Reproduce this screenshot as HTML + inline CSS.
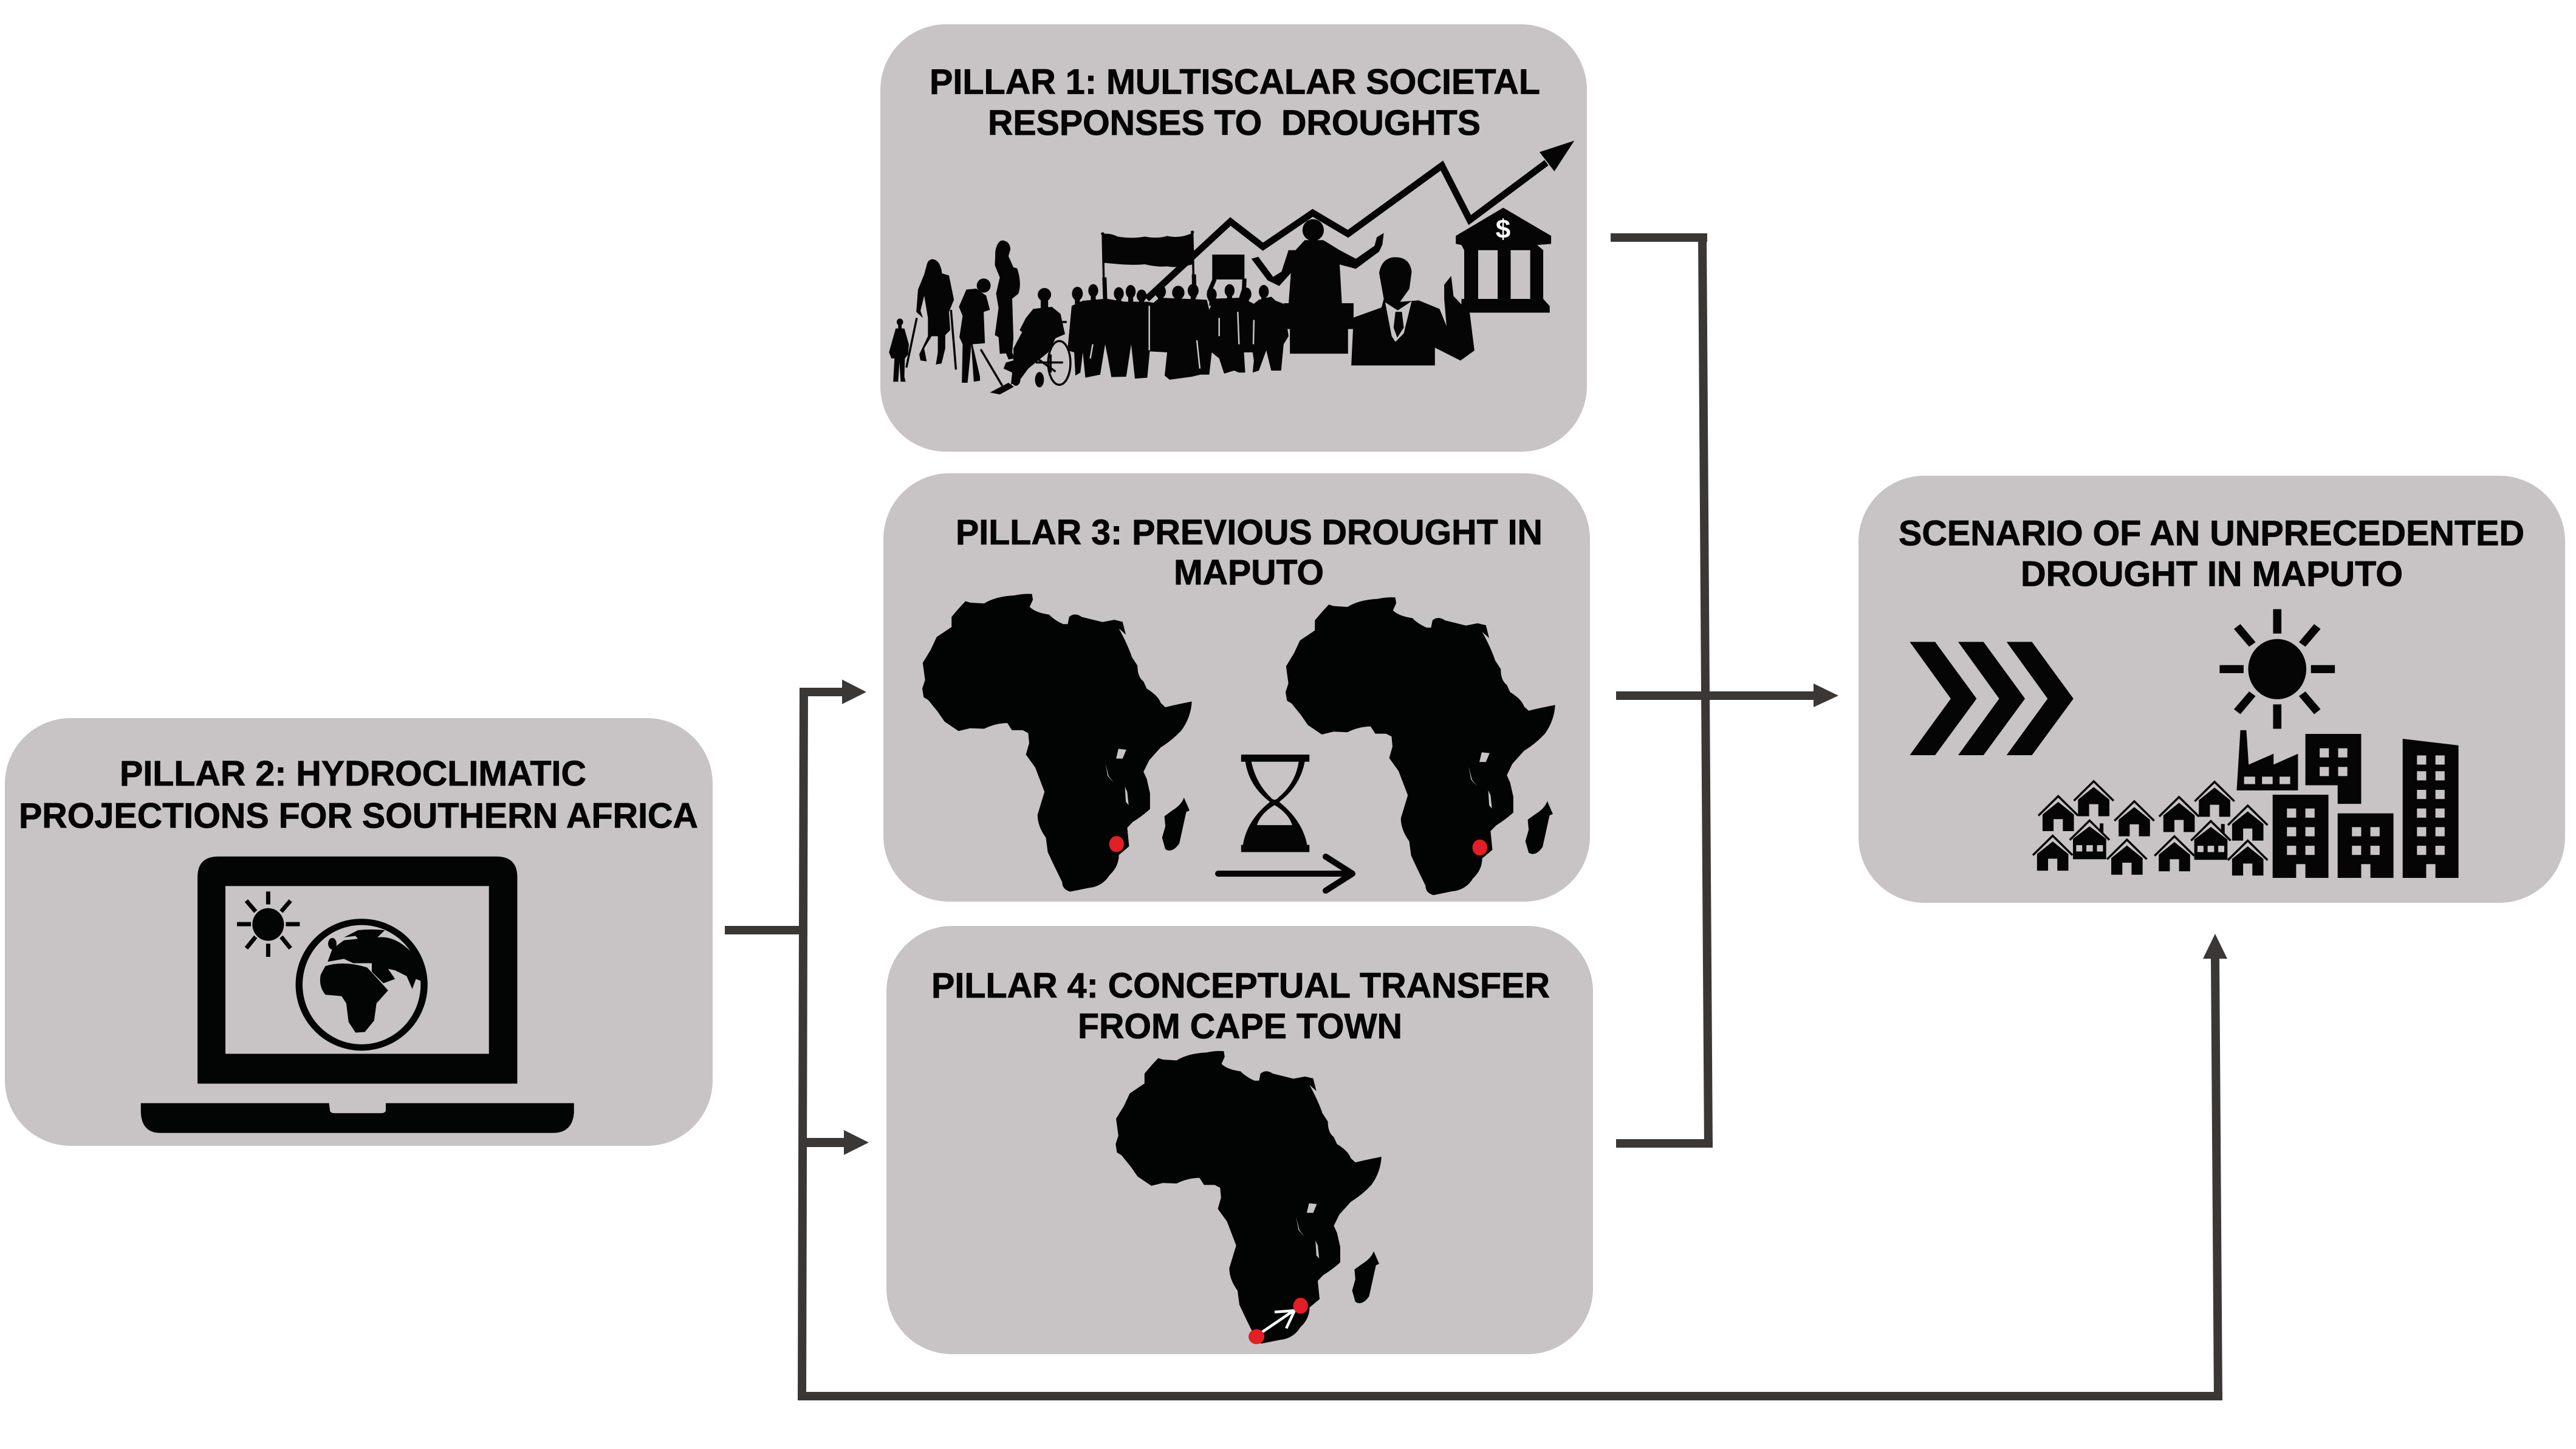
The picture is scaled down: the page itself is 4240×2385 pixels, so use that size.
<!DOCTYPE html>
<html><head><meta charset="utf-8"><style>html,body{margin:0;padding:0;background:#fff}svg{display:block}text{font-family:"Liberation Sans",sans-serif;font-weight:700;font-size:58px;fill:#050505;stroke:#050505;stroke-width:.8px}</style></head><body>
<svg xmlns="http://www.w3.org/2000/svg" width="4240" height="2385" viewBox="0 0 4240 2385">
<defs>
<g id="africa">
<path fill="#020303" d="M300,445 Q320,438 338,440 L340,460 L333,485 Q345,505 375,512 Q385,530 405,545 L415,545 L418,520 Q430,503 445,520 Q470,530 490,538 L515,530 L533,537 L540,582 L525,560 Q545,620 553,660 L565,690 Q565,730 578,745 L585,770 Q610,795 615,820 L625,835 Q650,825 682,815 Q680,870 660,915 Q640,950 615,975 L590,1020 L578,1060 L585,1085 L592,1135 L592,1190 Q575,1215 555,1235 L543,1255 L547,1320 L525,1350 Q525,1390 505,1420 Q490,1460 460,1465 L420,1478 Q403,1470 403,1445 L385,1385 L372,1340 L368,1290 Q350,1250 350,1210 L365,1130 L358,1100 L345,1045 L325,1000 L332,960 L330,925 L318,915 L295,915 L285,890 Q260,890 235,910 L205,908 L180,918 L150,885 L135,850 L115,810 L105,800 L102,770 L108,740 L103,680 L120,635 L133,590 L165,555 L165,520 Q180,490 195,465 L205,470 L235,473 Q260,448 300,445 Z"/>
<path fill="#020303" d="M665,1150 L677,1195 L670,1200 L655,1310 Q640,1345 625,1330 L618,1290 L625,1250 L623,1215 L640,1195 Q660,1175 665,1150Z"/>
<path fill="#c8c4c5" d="M524,980 L541,983 L533,1014 L519,1014 Z M496,1030 L503,1075 L514,1098 L501,1075 Z M538,1112 L543,1130 L546,1176 L540,1165 Z"/>
</g>
<g id="h">
<polyline points="-43,68 0,0 43,68" fill="none" stroke="#050505" stroke-width="3.5" vector-effect="non-scaling-stroke"/>
<path fill="#050505" d="M0,20 L-34,64 L-34,122 L-10,122 L-10,80 L10,80 L10,122 L34,122 L34,64 Z"/>
</g>
<g id="hw">
<polyline points="-43,68 0,0 43,68" fill="none" stroke="#050505" stroke-width="3.5" vector-effect="non-scaling-stroke"/>
<path fill="#050505" d="M0,20 L-36,64 L-36,135 L36,135 L36,64 Z M22,10 L30,10 L30,45 L22,35 Z"/>
<path fill="#c8c4c5" d="M-29,86 L-16,86 L-16,108 L-29,108 Z M-7,86 L7,86 L7,108 L-7,108 Z M16,86 L29,86 L29,108 L16,108 Z"/>
</g>
</defs>

<!-- boxes -->
<g fill="#c8c4c5">
<rect x="1449" y="40" width="1163" height="703.5" rx="108"/>
<rect x="1454" y="779" width="1163" height="705" rx="108"/>
<rect x="8" y="1182" width="1165" height="704" rx="108"/>
<rect x="1459" y="1524" width="1163" height="705" rx="108"/>
<rect x="3059" y="783" width="1163" height="703" rx="108"/>
</g>

<!-- connectors -->
<g fill="#3b3735">
<polygon points="1316,1132 1330,1132 1327,2305 1313,2305"/>
<rect x="1316" y="1132" width="74" height="14"/>
<polygon points="1386,1118.5 1426,1139 1386,1159"/>
<rect x="1193" y="1524" width="124" height="14"/>
<rect x="1326" y="1873" width="66" height="15"/>
<polygon points="1389,1860 1430,1880.5 1389,1901"/>
<rect x="1313" y="2291" width="2345" height="14"/>
<polygon points="3639,1578 3653,1578 3658,2305 3644,2305"/>
<polygon points="3646,1537 3666,1578 3626,1578"/>
<rect x="2651" y="384" width="159" height="14"/>
<polygon points="2795,390 2809,390 2819,1889 2805,1889"/>
<rect x="2660" y="1875" width="159" height="14"/>
<rect x="2660" y="1138" width="330" height="14"/>
<polygon points="2985,1125 3026,1145 2985,1164"/>
</g>

<!-- titles -->
<text x="1530" y="154.5" textLength="1005" lengthAdjust="spacingAndGlyphs">PILLAR 1: MULTISCALAR SOCIETAL</text>
<text x="1626" y="222" textLength="811" lengthAdjust="spacingAndGlyphs" xml:space="preserve">RESPONSES TO  DROUGHTS</text>
<text x="1573" y="896" textLength="966" lengthAdjust="spacingAndGlyphs">PILLAR 3: PREVIOUS DROUGHT IN</text>
<text x="1932" y="962" textLength="247" lengthAdjust="spacingAndGlyphs">MAPUTO</text>
<text x="3125" y="897.5" textLength="1030" lengthAdjust="spacingAndGlyphs">SCENARIO OF AN UNPRECEDENTED</text>
<text x="3326" y="964.5" textLength="629" lengthAdjust="spacingAndGlyphs">DROUGHT IN MAPUTO</text>
<text x="197" y="1293" textLength="768" lengthAdjust="spacingAndGlyphs">PILLAR 2: HYDROCLIMATIC</text>
<text x="31" y="1362.5" textLength="1118" lengthAdjust="spacingAndGlyphs">PROJECTIONS FOR SOUTHERN AFRICA</text>
<text x="1533" y="1642" textLength="1018" lengthAdjust="spacingAndGlyphs">PILLAR 4: CONCEPTUAL TRANSFER</text>
<text x="1774" y="1709" textLength="534" lengthAdjust="spacingAndGlyphs">FROM CAPE TOWN</text>

<!-- Pillar 1 graph, bank, speakers -->
<g transform="matrix(.765 0 0 .472 1440 20)">
<polyline points="585,1000 765,730 835,818 942,700 1018,773 1220,535 1280,725 1445,525" fill="none" stroke="#050505" stroke-width="11" vector-effect="non-scaling-stroke"/>
<polygon points="1505,448 1430,488 1462,555" fill="#050505"/>
<g fill="#050505">
<path d="M1352,682 L1455,780 L1455,808 L1425,812 L1438,830 L1438,1000 L1452,1025 L1452,1048 L1262,1048 L1262,1000 L1268,1000 L1268,830 L1262,812 L1250,808 L1250,780 Z"/>
</g>
<g fill="#c8c4c5">
<rect x="1298" y="830" width="42" height="170"/>
<rect x="1368" y="830" width="42" height="170"/>
</g>
<g fill="#050505">
<ellipse cx="943" cy="760" rx="23" ry="38"/>
<path d="M905,830 L925,795 L965,795 L1000,830 L1035,860 L1075,815 L1080,785 L1095,770 L1092,810 L1085,835 L1035,895 L1000,880 L1005,1020 L890,1020 L895,910 L870,955 L845,935 L875,905 L890,830Z"/>
<path d="M810,860 L825,853 L860,930 L845,935Z"/>
<rect x="880" y="1015" width="150" height="90"/>
<rect x="893" y="1100" width="125" height="91"/>
<path d="M1115,855 Q1150,850 1155,905 L1150,965 L1130,1010 L1170,1005 L1215,1035 L1230,1095 L1225,1000 L1225,950 L1240,920 L1245,990 L1280,1050 L1290,1180 L1260,1215 L1205,1170 L1205,1232 L1025,1232 L1030,1065 L1090,1030 L1095,1000 L1085,910 Q1090,860 1115,855Z"/>
</g>
<path fill="#c8c4c5" d="M1098,1012 L1125,1040 L1155,1008 L1138,1120 L1120,1150 L1112,1130Z"/>
<path fill="#050505" d="M1120,1045 L1134,1045 L1138,1100 L1124,1135 L1116,1100Z"/>
</g>
<text x="2474" y="392" style="font-size:44px;fill:#fff;stroke:none" text-anchor="middle">$</text>

<!-- Pillar 1 people -->
<g transform="matrix(.408 0 0 .3333 1460 380)" fill="#050505">
<ellipse cx="52" cy="450" rx="13" ry="17"/>
<rect x="45" y="460" width="14" height="30"/>
<path d="M35,482 L70,482 L88,560 L85,610 L72,630 L70,720 L75,745 L55,745 L50,650 L45,745 L25,745 L30,630 L18,630 L8,600 Z"/>
<path d="M185,140 Q215,145 222,210 L250,220 L270,340 L250,400 L255,490 L235,515 L235,580 L220,655 L197,660 L205,600 L205,520 L180,520 L150,580 L160,645 L135,640 L130,610 L165,520 L165,430 L150,320 L135,395 L145,430 L118,400 L125,290 L150,215 L160,170 Q165,140 185,140Z"/>
<g fill="none" stroke="#050505" stroke-width="3.5">
<line x1="120" y1="430" x2="78" y2="675" vector-effect="non-scaling-stroke"/>
<line x1="258" y1="390" x2="278" y2="685" vector-effect="non-scaling-stroke"/>
<line x1="378" y1="585" x2="465" y2="765" vector-effect="non-scaling-stroke"/>
<line x1="870" y1="10" x2="876" y2="340" vector-effect="non-scaling-stroke"/>
<line x1="1232" y1="5" x2="1238" y2="320" vector-effect="non-scaling-stroke"/>
<ellipse cx="695" cy="652" rx="45" ry="108" vector-effect="non-scaling-stroke"/>
<line x1="600" y1="650" x2="710" y2="650" vector-effect="non-scaling-stroke"/>
<line x1="600" y1="625" x2="680" y2="695" vector-effect="non-scaling-stroke"/>
<line x1="660" y1="610" x2="660" y2="700" vector-effect="non-scaling-stroke"/>
<line x1="680" y1="450" x2="725" y2="450" vector-effect="non-scaling-stroke"/>
</g>
<g fill="none" stroke="#050505" stroke-width="7">
<line x1="877" y1="230" x2="880" y2="340" vector-effect="non-scaling-stroke"/>
<line x1="1238" y1="215" x2="1240" y2="330" vector-effect="non-scaling-stroke"/>
<polyline points="1322,238 1300,300 1305,345" vector-effect="non-scaling-stroke"/>
<polyline points="1442,235 1440,290 1425,345" vector-effect="non-scaling-stroke"/>
</g>
<ellipse cx="390" cy="270" rx="28" ry="35"/>
<path d="M320,290 L360,285 L400,320 L415,390 L390,400 L395,555 L345,560 L375,720 L375,740 L350,745 L340,565 L325,750 L302,750 L305,560 L292,525 L305,420 L290,375 Z"/>
<path d="M415,798 L490,750 L512,770 L455,808Z"/>
<path d="M465,47 Q495,50 498,90 L490,125 L510,180 L525,185 Q545,260 530,310 L505,335 L510,530 L505,600 L515,630 L490,635 L480,605 L455,607 L450,525 L435,515 L450,380 L440,310 L455,230 L435,170 L437,100 Q445,50 465,47Z"/>
<ellipse cx="635" cy="315" rx="27" ry="33"/>
<rect x="620" y="330" width="30" height="60"/>
<path d="M590,385 L665,375 L700,410 L718,510 L680,530 L650,600 L570,680 L540,730 L500,760 L505,700 L470,680 L480,650 L510,640 L510,580 L545,500 L535,490 L560,430Z"/>
<ellipse cx="615" cy="735" rx="18" ry="38"/>
<ellipse cx="520" cy="735" rx="18" ry="30"/>
<!-- crowd heads + necks -->
<ellipse cx="768" cy="310" rx="22" ry="34"/><rect x="758" y="320" width="20" height="45"/>
<ellipse cx="832" cy="295" rx="20" ry="32"/><rect x="822" y="310" width="20" height="45"/>
<ellipse cx="935" cy="310" rx="20" ry="32"/><rect x="925" y="320" width="20" height="45"/>
<ellipse cx="983" cy="300" rx="20" ry="33"/><rect x="973" y="315" width="20" height="45"/>
<ellipse cx="1027" cy="320" rx="20" ry="30"/><rect x="1017" y="330" width="20" height="35"/>
<ellipse cx="1103" cy="300" rx="22" ry="34"/><rect x="1093" y="315" width="20" height="40"/>
<ellipse cx="1175" cy="305" rx="25" ry="34"/><rect x="1165" y="320" width="20" height="40"/>
<ellipse cx="1235" cy="295" rx="22" ry="33"/><rect x="1225" y="310" width="20" height="45"/>
<ellipse cx="1310" cy="315" rx="20" ry="32"/><rect x="1300" y="325" width="20" height="45"/>
<ellipse cx="1382" cy="295" rx="20" ry="32"/><rect x="1372" y="310" width="20" height="45"/>
<ellipse cx="1450" cy="312" rx="20" ry="32"/><rect x="1440" y="325" width="20" height="45"/>
<ellipse cx="1520" cy="300" rx="20" ry="33"/><rect x="1510" y="315" width="20" height="35"/>
<path d="M745,370 L790,345 L885,335 L960,350 L1050,350 L1075,355 L1100,330 L1290,340 L1300,390 L1320,335 L1430,330 L1480,360 L1500,340 L1550,325 L1568,345 L1600,360 L1620,520 L1600,560 L1590,690 L1550,690 L1530,590 L1500,690 L1475,700 L1480,640 L1475,600 L1440,600 L1445,700 L1420,700 L1400,690 L1360,705 L1340,630 L1310,600 L1300,710 L1265,710 L1230,720 L1140,735 L1120,715 L1130,600 L1060,595 L1050,725 L1000,730 L985,560 L965,720 L905,722 L890,620 L880,560 L860,710 L800,725 L790,600 L780,700 L760,715 L755,600 L728,590 Z"/>
<g stroke="#c8c4c5" stroke-width="2.5" fill="none">
<line x1="1058" y1="370" x2="1058" y2="590" vector-effect="non-scaling-stroke"/>
<line x1="1340" y1="430" x2="1340" y2="520" vector-effect="non-scaling-stroke"/>
<line x1="1415" y1="400" x2="1420" y2="560" vector-effect="non-scaling-stroke"/>
<line x1="1480" y1="440" x2="1478" y2="560" vector-effect="non-scaling-stroke"/>
<line x1="1250" y1="540" x2="1262" y2="680" vector-effect="non-scaling-stroke"/>
<line x1="830" y1="560" x2="820" y2="630" vector-effect="non-scaling-stroke"/>
</g>
<circle cx="870" cy="14" r="7"/><circle cx="1232" cy="6" r="7"/>
<path d="M870,15 Q900,10 930,28 Q990,40 1040,28 Q1090,40 1130,25 Q1180,40 1232,10 L1235,165 Q1170,185 1130,175 Q1090,180 1040,165 Q1000,170 940,165 L875,158 Z"/>
<rect x="1312" y="117" width="130" height="123"/>
</g>

<!-- Pillar 3 maps -->
<g transform="matrix(.765 0 0 .472 1440 770)"><use href="#africa"/><ellipse cx="520" cy="1312" rx="16" ry="28" fill="#e31e24"/></g>
<g transform="matrix(.765 0 0 .472 2038 775.7)"><use href="#africa"/><ellipse cx="520" cy="1312" rx="16" ry="28" fill="#e31e24"/></g>
<!-- hourglass -->
<g transform="matrix(.765 0 0 .472 1440 770)">
<path fill="#050505" d="M788,1000 L935,1000 L935,1025 L925,1025 Q915,1110 870,1165 Q920,1230 930,1315 L935,1315 L935,1340 L788,1340 L788,1315 L792,1315 Q800,1230 850,1165 Q805,1110 797,1025 L788,1025 Z"/>
<path fill="#c8c4c5" d="M810,1025 L912,1025 Q905,1100 868,1150 Q860,1165 852,1150 Q820,1100 810,1025Z M860,1176 Q830,1205 822,1246 L898,1246 Q890,1205 860,1176Z"/>
</g>
<g fill="none" stroke="#050505" stroke-width="10" stroke-linecap="round" stroke-linejoin="round">
<line x1="2005" y1="1438" x2="2224" y2="1438"/>
<polyline points="2182,1410 2226,1438 2182,1466"/>
</g>

<!-- Pillar 4 map -->
<g transform="matrix(.7545 0 0 .4638 1759.3 1526)"><use href="#africa"/></g>
<g transform="matrix(.765 0 0 .472 1450 1520)">
<g fill="none" stroke="#fff" stroke-width="4.5">
<line x1="820" y1="1425" x2="888" y2="1350" vector-effect="non-scaling-stroke"/>
<polyline points="847,1355 890,1350 872,1412" vector-effect="non-scaling-stroke"/>
</g>
<ellipse cx="903" cy="1333" rx="16" ry="28" fill="#e31e24"/>
<ellipse cx="808" cy="1441" rx="17" ry="26" fill="#e31e24"/>
</g>

<!-- Pillar 2 laptop -->
<g transform="matrix(.765 0 0 .472 0 1170)" fill="#030404">
<path d="M470,508 L1068,508 Q1113,508 1113,580 L1113,1300 L425,1300 L425,580 Q425,508 470,508Z"/>
<rect x="485" y="611" width="567" height="585" fill="#c8c4c5"/>
<path d="M303,1368 L708,1368 L710,1395 Q712,1403 720,1403 L820,1403 Q828,1403 830,1395 L830,1368 L1235,1368 L1235,1400 Q1232,1472 1190,1472 L345,1472 Q305,1472 303,1400Z"/>
<ellipse cx="577" cy="745" rx="34" ry="57"/>
<g stroke="#030404" stroke-width="7">
<line x1="577" y1="630" x2="577" y2="675" vector-effect="non-scaling-stroke"/>
<line x1="577" y1="812" x2="577" y2="858" vector-effect="non-scaling-stroke"/>
<line x1="510" y1="744" x2="540" y2="744" vector-effect="non-scaling-stroke"/>
<line x1="615" y1="744" x2="645" y2="744" vector-effect="non-scaling-stroke"/>
<line x1="530" y1="662" x2="550" y2="700" vector-effect="non-scaling-stroke"/>
<line x1="625" y1="662" x2="605" y2="700" vector-effect="non-scaling-stroke"/>
<line x1="530" y1="828" x2="550" y2="788" vector-effect="non-scaling-stroke"/>
<line x1="625" y1="828" x2="605" y2="788" vector-effect="non-scaling-stroke"/>
</g>
<ellipse cx="778" cy="955" rx="142" ry="230"/>
<ellipse cx="778" cy="955" rx="127" ry="208" fill="#c8c4c5"/>
<path d="M700,890 Q740,870 790,895 L810,930 L835,975 L810,1020 L805,1080 L785,1120 L765,1122 L750,1085 L745,1020 L735,995 L700,990 Q685,960 690,920Z"/>
<path d="M770,765 Q800,760 828,765 L812,790 Q860,780 905,880 L918,950 L895,935 L887,970 L875,925 L850,905 L835,900 L850,935 L825,950 L800,910 L800,880 L760,880 L740,865 L705,875 L715,830 L740,800 L770,795 L765,785 L740,790 Z"/>
<ellipse cx="715" cy="812" rx="9" ry="20"/>
</g>

<!-- Scenario -->
<g transform="matrix(.759 0 0 .472 3050 770)" fill="#050505">
<path d="M123,607 L178,607 L268,805 L178,1002 L123,1002 L212,805Z"/>
<path d="M228,607 L283,607 L373,805 L283,1002 L228,1002 L317,805Z"/>
<path d="M333,607 L388,607 L478,805 L388,1002 L333,1002 L422,805Z"/>
<ellipse cx="920" cy="702" rx="63" ry="105"/>
<rect x="911" y="493" width="18" height="85"/><rect x="911" y="825" width="18" height="85"/>
<rect x="795" y="688" width="52" height="28"/><rect x="993" y="688" width="52" height="28"/>
<path d="M826,562 L840,545 L873,608 L859,624Z"/>
<path d="M1014,562 L1000,545 L967,608 L981,624Z"/>
<path d="M826,842 L840,859 L873,796 L859,780Z"/>
<path d="M1014,842 L1000,859 L967,796 L981,780Z"/>
<path d="M840,915 L853,915 L858,1035 L912,997 L912,1035 L965,997 L965,1125 L832,1125Z"/>
<path d="M981,928 L1102,928 L1102,1172 L1051,1172 L1051,1107 L981,1107Z"/>
<path d="M1192,945 L1313,968 L1313,1430 L1192,1430 Z"/>
<rect x="910" y="1140" width="121" height="290"/>
<rect x="1051" y="1205" width="121" height="225"/>
<g fill="#c8c4c5">
<rect x="848" y="1077" width="24" height="26"/><rect x="887" y="1077" width="23" height="26"/><rect x="925" y="1077" width="23" height="26"/>
<rect x="1012" y="978" width="20" height="32"/><rect x="1052" y="978" width="20" height="32"/><rect x="1012" y="1043" width="20" height="32"/><rect x="1052" y="1043" width="20" height="32"/>
<rect x="1223" y="1003" width="20" height="32"/><rect x="1263" y="1003" width="20" height="32"/>
<rect x="1223" y="1058" width="20" height="32"/><rect x="1263" y="1058" width="20" height="32"/>
<rect x="1223" y="1123" width="20" height="32"/><rect x="1263" y="1123" width="20" height="32"/>
<rect x="1223" y="1188" width="20" height="32"/><rect x="1263" y="1188" width="20" height="32"/>
<rect x="1223" y="1253" width="20" height="32"/><rect x="1263" y="1253" width="20" height="32"/>
<rect x="1223" y="1318" width="20" height="32"/><rect x="1263" y="1318" width="20" height="32"/>
<rect x="1243" y="1382" width="20" height="48"/>
<rect x="941" y="1188" width="20" height="32"/><rect x="981" y="1188" width="20" height="32"/>
<rect x="941" y="1253" width="20" height="32"/><rect x="981" y="1253" width="20" height="32"/>
<rect x="941" y="1318" width="20" height="32"/><rect x="981" y="1318" width="20" height="32"/>
<rect x="961" y="1382" width="20" height="48"/>
<rect x="1082" y="1253" width="20" height="32"/><rect x="1122" y="1253" width="20" height="32"/>
<rect x="1082" y="1318" width="20" height="32"/><rect x="1122" y="1318" width="20" height="32"/>
<rect x="1102" y="1382" width="20" height="48"/>
</g>
<use href="#h" transform="translate(445,1145)"/>
<use href="#h" transform="translate(522,1093)"/>
<use href="#h" transform="translate(610,1163)"/>
<use href="#h" transform="translate(707,1148)"/>
<use href="#h" transform="translate(784,1095)"/>
<use href="#h" transform="translate(856,1178)"/>
<use href="#hw" transform="translate(513,1230)"/>
<use href="#hw" transform="translate(776,1232)"/>
<use href="#h" transform="translate(433,1283)"/>
<use href="#h" transform="translate(594,1297)"/>
<use href="#h" transform="translate(697,1285)"/>
<use href="#h" transform="translate(856,1300)"/>
</g>
</svg>
</body></html>
